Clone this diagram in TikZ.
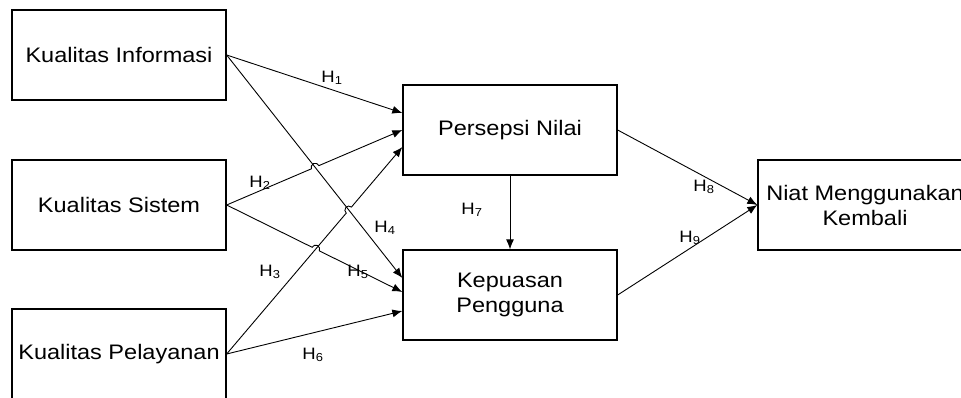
\documentclass[tikz,border=0pt]{standalone}
\usepackage{fontspec}
\setmainfont[FakeStretch=1.12]{Liberation Sans}
\usetikzlibrary{arrows.meta, positioning, calc}

\tikzset{
    varbox/.style={draw, line width=1.3pt, minimum width=214pt,
        minimum height=90pt, align=center, inner sep=0pt,
        font=\fontsize{21}{25}\selectfont},
    hyp/.style={-{Latex[length=10pt, width=8pt]}, line width=0.9pt},
    hlabel/.style={font=\fontsize{16.5}{18}\selectfont, inner sep=0pt}
}

\begin{document}
\begin{tikzpicture}[x=1pt, y=1pt]
        \clip (0, 0) rectangle (961, 398);
        % variabel
        \node[varbox] (KI) at (119, 343) {Kualitas Informasi};
        \node[varbox] (KS) at (119, 193) {Kualitas Sistem};
        \node[varbox] (KPel) at (119, 44) {Kualitas Pelayanan};
        \node[varbox] (PN) at (510, 268) {Persepsi Nilai};
        \node[varbox] (KP) at (510, 103) {Kepuasan\\Pengguna};
        \node[varbox] (NM) at (865, 193) {Niat Menggunakan\\Kembali};
        % titik ujung panah
        \coordinate (PNa) at ($(PN.west) + (0, 17)$);
        \coordinate (PNc) at ($(PN.west) + (0, -17)$);
        \coordinate (KPa) at ($(KP.west) + (0, 17)$);
        \coordinate (KPb) at ($(KP.west) + (0, 3)$);
        \coordinate (KPc) at ($(KP.west) + (0, -16)$);
        % titik potong
        \coordinate (X1) at (intersection of KI.east--KPa and KS.east--PN.west);
        \coordinate (X2) at (intersection of KI.east--KPa and KPel.east--PNc);
        \coordinate (X3) at (intersection of KPel.east--PNc and KS.east--KPb);
        % panah
        \draw[hyp] (KI.east) -- (PNa);
        \draw[hyp] (KI.east) -- (KPa);
        \draw[hyp] (KS.east) -- ($(X1)!4pt!(KS.east)$)
            arc[start angle=203, end angle=23, radius=4pt] -- (PN.west);
        \draw[hyp] (KS.east) -- ($(X3)!4pt!(KS.east)$)
            arc[start angle=153.6, end angle=-26.4, radius=4pt] -- (KPb);
        \draw[hyp] (KPel.east) -- ($(X2)!4pt!(KPel.east)$)
            arc[start angle=229.3, end angle=49.3, radius=4pt] -- (PNc);
        \draw[hyp] (KPel.east) -- (KPc);
        \draw[hyp] (PN.south) -- (KP.north);
        \draw[hyp] (PN.east) -- (NM.west);
        \draw[hyp] (KP.east) -- (NM.west);
        % label hipotesis
        \node[hlabel] (h1) at (332, 320) {H\textsubscript{1}};
        \node[hlabel] (h2) at (260, 215) {H\textsubscript{2}};
        \node[hlabel] (h3) at (270, 126) {H\textsubscript{3}};
        \node[hlabel] (h4) at (385, 170) {H\textsubscript{4}};
        \node[hlabel] (h5) at (358, 126) {H\textsubscript{5}};
        \node[hlabel] (h6) at (313, 43) {H\textsubscript{6}};
        \node[hlabel] (h7) at (472, 188) {H\textsubscript{7}};
        \node[hlabel] (h8) at (704, 211) {H\textsubscript{8}};
        \node[hlabel] (h9) at (690, 160) {H\textsubscript{9}};
    \end{tikzpicture}
\end{document}
